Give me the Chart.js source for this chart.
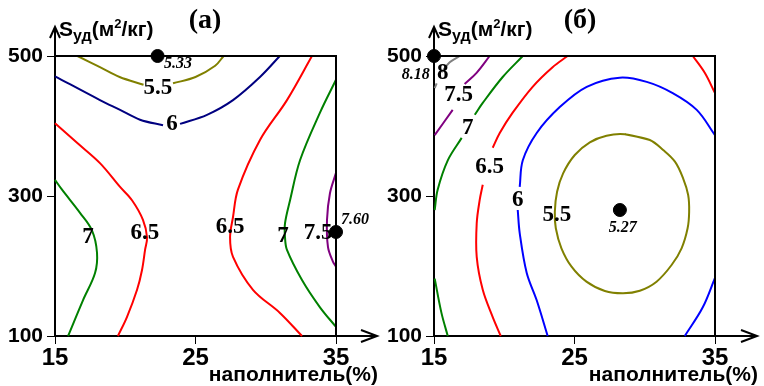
<!DOCTYPE html>
<html>
<head>
<meta charset="utf-8">
<script src="https://cdn.jsdelivr.net/npm/chart.js@4.4.1/dist/chart.umd.min.js"></script>
<style>
  body { margin: 0; background: #fff; }
  #wrap { position: relative; width: 764px; height: 386px; }
  canvas { position: absolute; top: 0; }
  #panelA { left: 0; }
  #panelB { left: 380px; }
</style>
</head>
<body>
<div id="wrap">
  <canvas id="panelA" width="380" height="386"></canvas>
  <canvas id="panelB" width="384" height="386"></canvas>
</div>
<script>
// axes
const xTicks = [15, 25, 35];
const yTicks = [100, 300, 500];

// panel (a) contours, [наполнитель %, Sуд]
const olive55A = [[16.6,500],[18.2,484],[19.6,470],[21.3,459],null,[23.4,461],[25.0,470],[26.4,486],[27.0,500]];
const navy6A = [[15,471],[18.2,437],[19.63,423],[21.05,409],[22.69,401],null,[23.9,403],[25.82,416],[27.67,437],[29.59,470],[31.0,500]];
const red65A1 = [[15,404],[16.57,376],[18.2,347],[19.63,313],[20.48,294],[21.26,266],[21.55,241],[21.41,223],[21.19,194],[20.84,166],[20.12,127],[19.48,100]];
const green7A1 = [[15,323],[15.5,309],[16.78,276],[17.63,251],[17.99,219],[17.85,190],[16.99,151],[15.93,100]];
const red65A2 = [[33.29,500],[31.51,437],[29.59,380],[28.02,309],[27.67,270],[27.46,241],[27.67,213],[29.09,166],[31.01,133],[32.58,100]];
const green7A2 = [[35,466],[33.86,419],[32.44,351],[31.73,294],[31.37,261],[31.37,241],[31.51,223],[32.58,180],[33.86,141],[35,113]];
const purple75A = [[35,333],[34.57,304],[34.36,266],[34.43,227],[34.79,206],[35,199]];
const optA = [[22.3,500],[35,248.6]];
const optValuesA = ["5.33", "7.60"];
const optLabelPosA = [[23.75,489],[36.35,266]];
const levelTextA = ["5.5", "6", "6.5", "7", "6.5", "7", "7.5"];
const levelPosA = [[22.33,454],[23.33,403],[21.4,247],[17.35,241],[27.46,256],[31.23,243],[33.72,247]];

// panel (б) contours
const gray8B = [[16.83,500],[16.12,491],[15.55,477],null,[15.19,461],[15.05,454]];
const purple75B = [[18.96,500],[18.03,476],[17.18,460],null,[16.33,423],[15.05,387]];
const green7B1 = [[21.32,500],[19.89,470],[18.47,433],[17.9,416],null,[16.97,383],[15.98,351],[15.26,309],[15.05,280]];
const green7B2 = [[15.05,182],[15.53,133],[15.98,100]];
const red65B1 = [[24.51,500],[23.44,484],[22.02,456],[20.6,419],[19.68,390],[19.18,369],null,[18.47,316],[18.25,294],[18.04,261],[18.04,213],[18.47,166],[19.18,127],[19.75,100]];
const red65B2 = [[33.42,500],[34.27,476],[35,447]];
const blue6B1 = [[35,387],[33.7,423],[31.99,447],[30.14,463],[28.22,469],[25.87,456],[23.95,427],[22.31,390],[21.32,351],[21.1,313],null,[20.96,280],[21.1,247],[21.6,190],[22.31,151],[23.09,100]];
const blue6B2 = [[35,183],[34.13,141],[32.85,100]];
const olive55B = [[28.58,388.1],[30.36,380],[31.31,365.7],[32.15,349],[32.73,325.3],[33.09,301.4],[33.16,277.6],[33.05,253.9],
  [32.62,225.3],[31.91,201.4],[30.84,177.6],[29.65,164.7],[28.46,161],[27.16,164.3],[25.85,177.6],[24.79,199],
  [24.07,225.3],[23.67,253.9],[23.6,277.6],[23.76,306.1],[24.19,332.4],[25.02,358.6],[26.09,376.7],[27.28,386.1],
  [28.58,388.1],[30.36,380]];
const optB = [[15,500],[28.23,280]];
const optValuesB = ["8.18", "5.27"];
const optLabelPosB = [[13.7,473],[28.44,254]];
const levelTextB = ["8", "7.5", "7", "6.5", "6", "5.5"];
const levelPosB = [[15.62,476],[16.76,444],[17.4,397],[18.96,341],[20.96,294],[23.74,273]];

const toXY = arr => arr.map(p => p ? { x: p[0], y: p[1] } : { x: null, y: null });

function contour(points, color) {
  return {
    data: toXY(points),
    showLine: true,
    borderColor: color,
    borderWidth: 2,
    pointRadius: 0,
    tension: 0.35,
    clip: false,
    order: 2
  };
}

function drawYTitle(ctx, x, y) {
  // Sуд(м²/кг) with sub/superscript
  const parts = [["S", 21, 0], ["уд", 16, 5], ["(м", 21, 0], ["2", 13, -8], ["/кг)", 21, 0]];
  ctx.textAlign = "left";
  ctx.textBaseline = "alphabetic";
  parts.forEach(([txt, size, dy]) => {
    ctx.font = `bold ${size}px "Liberation Sans", Arial, sans-serif`;
    ctx.fillText(txt, x, y + dy);
    x += ctx.measureText(txt).width;
  });
}

function overlay(info) {
  return {
    id: "overlay",
    afterDatasetsDraw(chart) {
      const { ctx, chartArea: a, scales } = chart;
      const sx = scales.x, sy = scales.y;
      ctx.save();
      ctx.strokeStyle = "#000";
      ctx.fillStyle = "#000";
      ctx.lineWidth = 2;
      // frame top / right, axis extensions and arrows
      ctx.beginPath();
      ctx.moveTo(a.left, a.top); ctx.lineTo(a.right, a.top); ctx.lineTo(a.right, a.bottom);
      ctx.moveTo(a.left, a.top); ctx.lineTo(a.left, a.top - 29);
      ctx.moveTo(a.left - 5, a.top - 18); ctx.lineTo(a.left, a.top - 29); ctx.lineTo(a.left + 5, a.top - 18);
      ctx.moveTo(a.right, a.bottom); ctx.lineTo(info.arrowX, a.bottom);
      ctx.moveTo(info.arrowX - 16, a.bottom - 6); ctx.lineTo(info.arrowX, a.bottom); ctx.lineTo(info.arrowX - 16, a.bottom + 6);
      ctx.stroke();

      // titles
      ctx.font = 'bold 28px "Liberation Serif", "Times New Roman", serif';
      ctx.textAlign = "center";
      ctx.textBaseline = "middle";
      ctx.fillText(info.title, info.titleX, 21);
      drawYTitle(ctx, a.left + 4, 36);
      ctx.font = 'bold 21px "Liberation Sans", Arial, sans-serif';
      ctx.textAlign = "right";
      ctx.textBaseline = "alphabetic";
      ctx.fillText("наполнитель(%)", info.arrowX + 1, 381);

      // contour level labels
      ctx.font = 'bold 23px "Liberation Serif", "Times New Roman", serif';
      ctx.textAlign = "center";
      ctx.textBaseline = "middle";
      info.levelText.forEach((t, i) => {
        ctx.fillText(t, sx.getPixelForValue(info.levelPos[i][0]), sy.getPixelForValue(info.levelPos[i][1]));
      });

      // extreme values
      ctx.font = 'italic bold 16px "Liberation Serif", "Times New Roman", serif';
      info.optValues.forEach((t, i) => {
        ctx.fillText(t, sx.getPixelForValue(info.optPos[i][0]), sy.getPixelForValue(info.optPos[i][1]));
      });
      ctx.restore();
    }
  };
}

function makePanel(id, lines, extremes, info, padRight) {
  const datasets = lines.map(([pts, color]) => contour(pts, color));
  datasets.push({
    data: toXY(extremes),
    pointRadius: 6.5,
    pointBackgroundColor: "#000",
    pointBorderColor: "#000",
    showLine: false,
    clip: false,
    order: 1
  });
  return new Chart(document.getElementById(id), {
    type: "scatter",
    data: { datasets },
    options: {
      responsive: false,
      animation: false,
      events: [],
      layout: { padding: { top: 56, right: padRight, left: 0, bottom: 0 } },
      plugins: { legend: { display: false }, tooltip: { enabled: false } },
      scales: {
        x: {
          type: "linear", min: 15, max: 35,
          afterBuildTicks: s => { s.ticks = xTicks.map(v => ({ value: v })); },
          afterFit: s => { s.height = 50; },
          border: { display: true, color: "#000", width: 2 },
          grid: { drawOnChartArea: false, drawTicks: true, tickLength: 8, color: "#000", lineWidth: 1 },
          ticks: { color: "#000", padding: 0, maxRotation: 0, font: { family: "Liberation Sans", weight: "bold", size: 24 } }
        },
        y: {
          type: "linear", min: 100, max: 500,
          afterBuildTicks: s => { s.ticks = yTicks.map(v => ({ value: v })); },
          afterFit: s => { s.width = info.yWidth; },
          border: { display: true, color: "#000", width: 2 },
          grid: { drawOnChartArea: false, drawTicks: true, tickLength: 8, color: "#000", lineWidth: 1 },
          ticks: { color: "#000", padding: 4, font: { family: "Liberation Sans", weight: "bold", size: 21 } }
        }
      }
    },
    plugins: [overlay(info)]
  });
}

makePanel("panelA", [
  [olive55A, "#808000"], [navy6A, "#000080"], [red65A1, "#ff0000"], [green7A1, "#008000"],
  [red65A2, "#ff0000"], [green7A2, "#008000"], [purple75A, "#800080"]
], optA, {
  title: "(a)", titleX: 205, arrowX: 377, yWidth: 55,
  levelText: levelTextA, levelPos: levelPosA, optValues: optValuesA, optPos: optLabelPosA
}, 44);

makePanel("panelB", [
  [gray8B, "#808080"], [purple75B, "#800080"], [green7B1, "#008000"], [green7B2, "#008000"],
  [red65B1, "#ff0000"], [red65B2, "#ff0000"], [blue6B1, "#0000ff"], [blue6B2, "#0000ff"], [olive55B, "#808000"]
], optB, {
  title: "(б)", titleX: 200, arrowX: 377, yWidth: 54,
  levelText: levelTextB, levelPos: levelPosB, optValues: optValuesB, optPos: optLabelPosB
}, 49);
</script>
</body>
</html>
